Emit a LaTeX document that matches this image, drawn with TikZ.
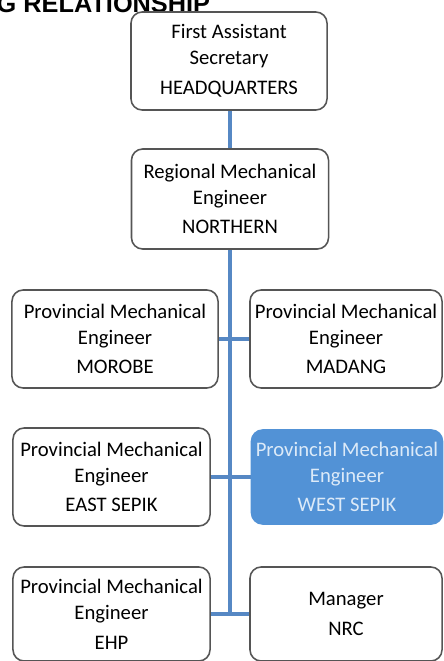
\documentclass[tikz,border=0pt]{standalone}
\usepackage{fontspec}
\setmainfont{Carlito}
\newfontfamily\titlefont{Liberation Sans}
\definecolor{linkblue}{RGB}{86,136,196}
\definecolor{boxgray}{RGB}{85,85,85}
\definecolor{selfill}{RGB}{82,146,214}
\definecolor{seltext}{RGB}{220,234,248}
\tikzset{
	post/.style={draw=boxgray,line width=1.1pt,rounded corners=0.28cm,align=center,fill=white,
		font=\fontsize{14.7}{18.4}\selectfont,inner sep=0pt},
	selpost/.style={post,draw=selfill,fill=selfill,text=seltext},
	link/.style={draw=linkblue,line width=2.8pt}
}
\begin{document}
\begin{tikzpicture}[x=0.025cm,y=-0.025cm]
			\useasboundingbox (0,0) rectangle (443,661);
			\node[anchor=base east,font=\titlefont\bfseries\fontsize{18}{20}\selectfont] (title) at (215,13) {G RELATIONSHIP};
			% links first, boxes on top
			\coordinate (trunktop) at (230,110);
			\coordinate (trunkend) at (230,614);
			\coordinate (ml) at (218,339); \coordinate (mr) at (250,339);
			\coordinate (el) at (210,477); \coordinate (er) at (252,477);
			\coordinate (hl) at (210,614); \coordinate (hr) at (250,614);
			\draw[link] (trunktop) -- (trunkend);
			\draw[link] (ml) -- (mr) (el) -- (er) (hl) -- (hr);
			\node[post,minimum width=4.9cm,minimum height=2.45cm] (hq) at (229,61) {First Assistant\\Secretary\\[2.8pt]HEADQUARTERS};
			\node[post,minimum width=4.925cm,minimum height=2.5cm] (reg) at (230,199) {Regional Mechanical\\Engineer\\[2.8pt]NORTHERN};
			\node[post,minimum width=5.15cm,minimum height=2.45cm] (morobe) at (115,339) {Provincial Mechanical\\Engineer\\[2.8pt]MOROBE};
			\node[post,minimum width=4.8cm,minimum height=2.45cm] (madang) at (346,339) {Provincial Mechanical\\Engineer\\[2.8pt]MADANG};
			\node[post,minimum width=4.925cm,minimum height=2.45cm] (esepik) at (111.5,477) {Provincial Mechanical\\Engineer\\[2.8pt]EAST SEPIK};
			\node[selpost,minimum width=4.775cm,minimum height=2.35cm] (wsepik) at (347,477) {Provincial Mechanical\\Engineer\\[2.8pt]WEST SEPIK};
			\node[post,minimum width=4.925cm,minimum height=2.35cm] (ehp) at (111.5,614) {Provincial Mechanical\\Engineer\\[2.8pt]EHP};
			\node[post,minimum width=4.8cm,minimum height=2.35cm] (nrc) at (346,614) {Manager\\[2.8pt]NRC};
\end{tikzpicture}
\end{document}
